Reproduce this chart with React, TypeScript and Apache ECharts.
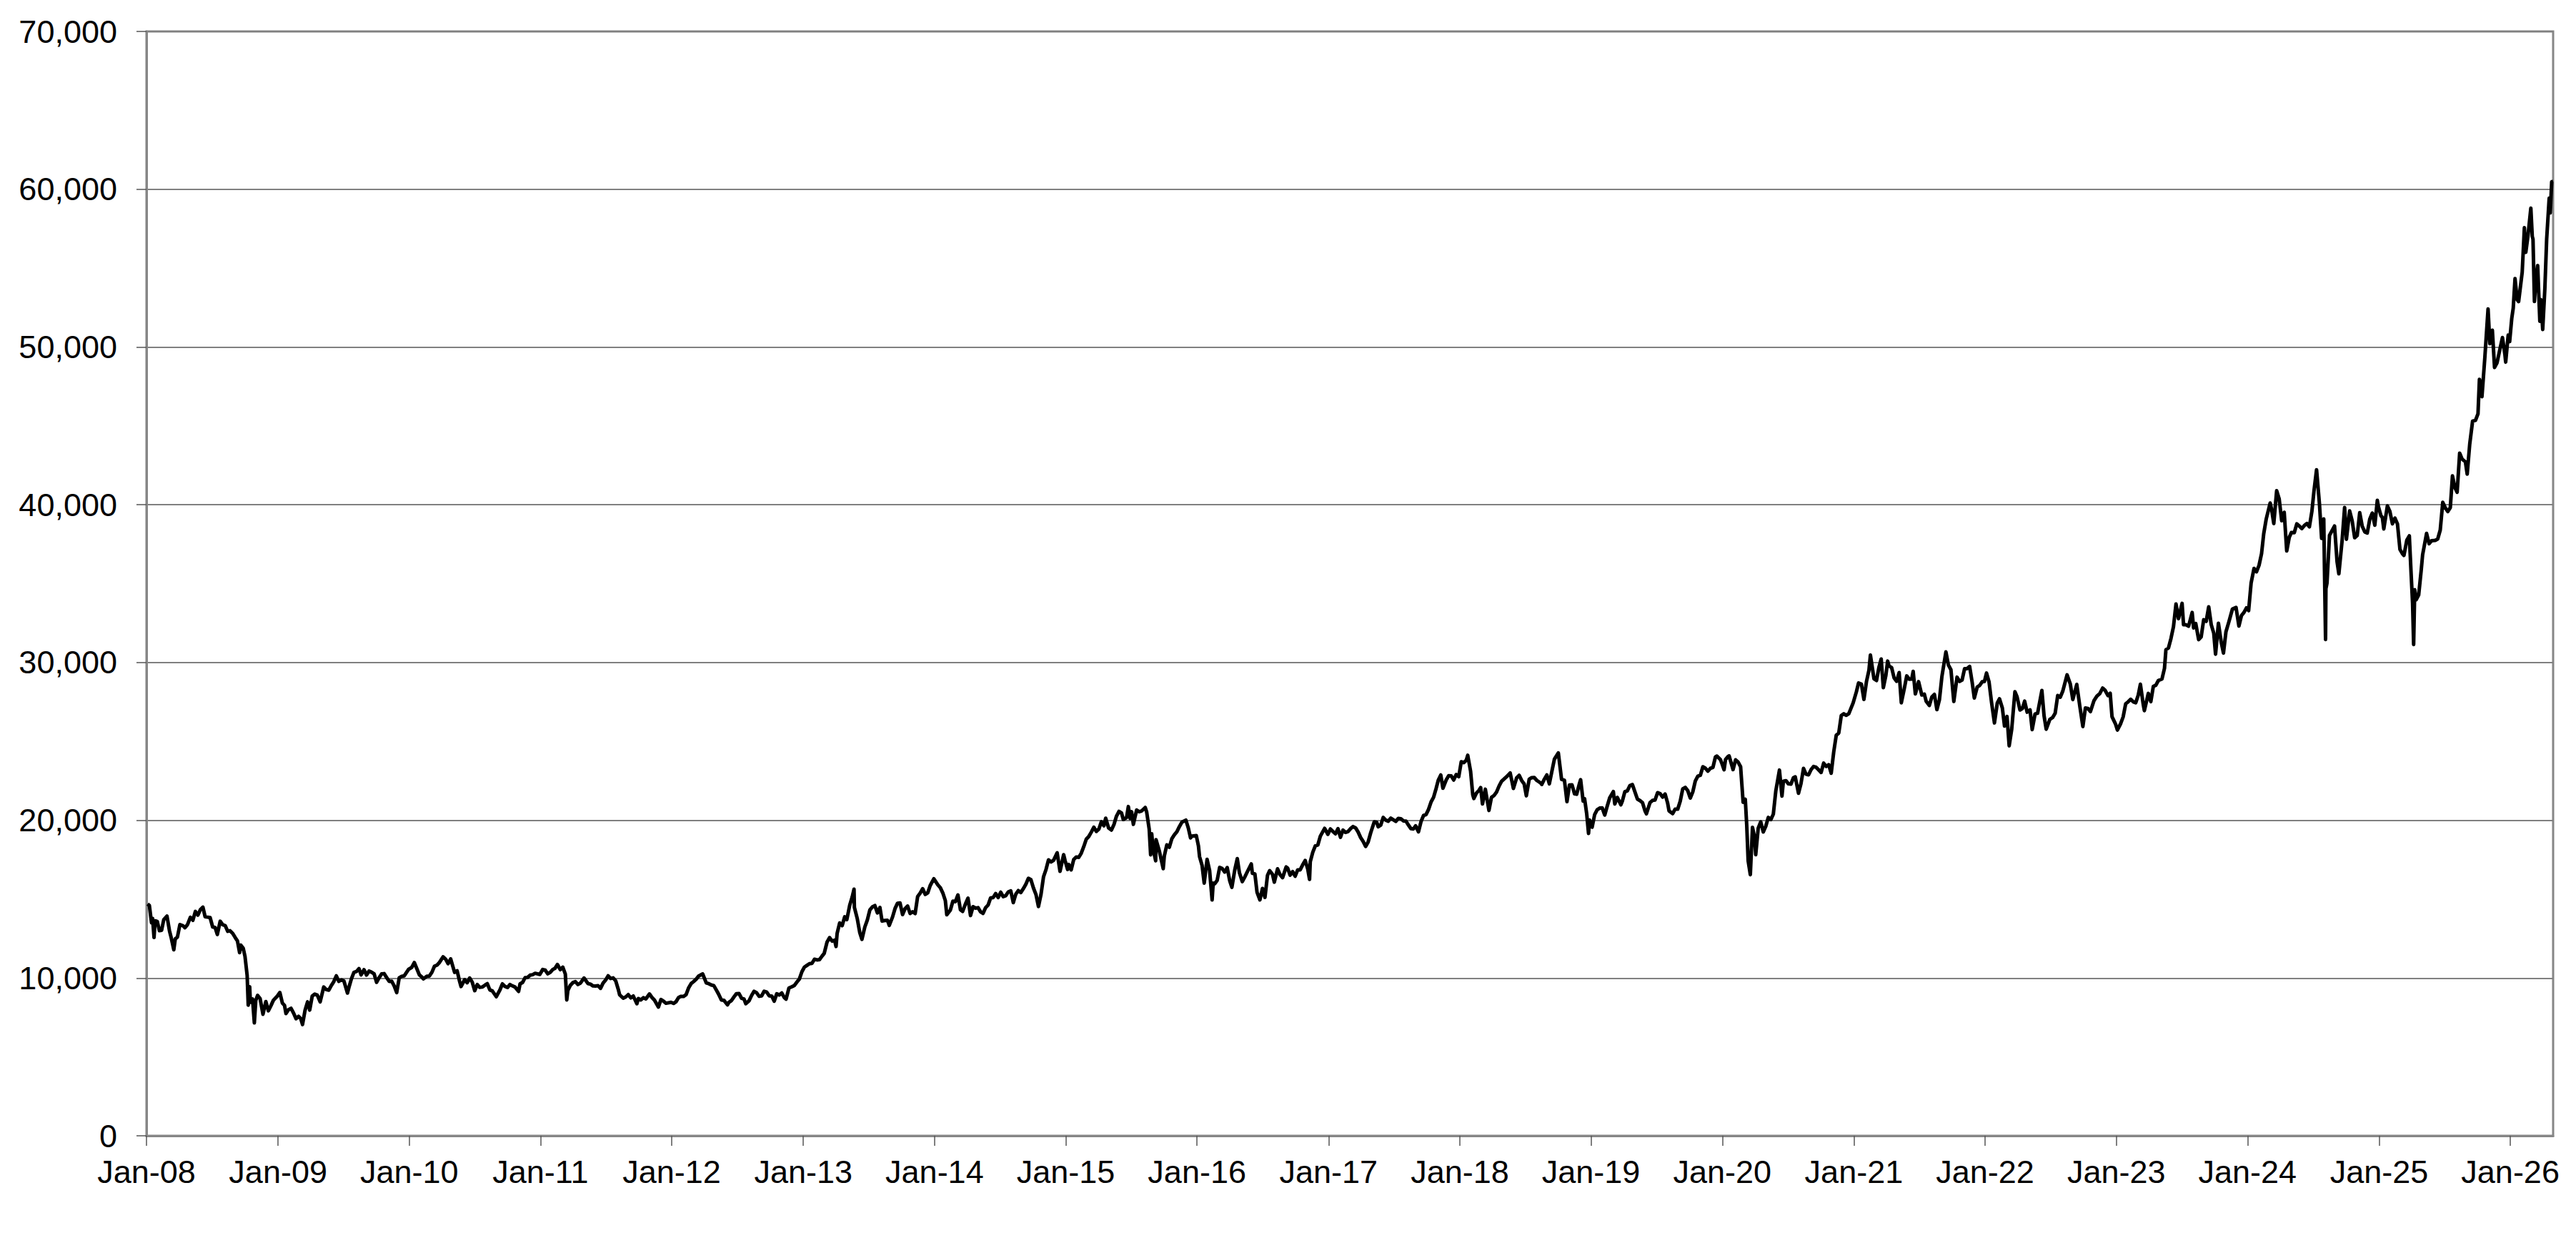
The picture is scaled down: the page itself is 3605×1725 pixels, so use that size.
import React, { useEffect, useRef } from "react";
import * as echarts from "echarts";

type P = [string, number];

const y2008: P[] = [["2008-01-04",14690],["2008-01-09",14600],["2008-01-15",13500],["2008-01-18",13780],["2008-01-22",12570],["2008-01-25",13630],["2008-01-31",13590],["2008-02-06",13000],["2008-02-12",13020],["2008-02-18",13700],["2008-02-27",13930],["2008-03-05",12990],["2008-03-10",12530],["2008-03-17",11790],["2008-03-21",12480],["2008-03-27",12590],["2008-04-03",13390],["2008-04-11",13320],["2008-04-17",13190],["2008-04-24",13380],["2008-05-02",13850],["2008-05-09",13660],["2008-05-16",14220],["2008-05-23",13990],["2008-05-30",14340],["2008-06-06",14490],["2008-06-12",13890],["2008-06-19",13860],["2008-06-26",13830],["2008-07-03",13240],["2008-07-10",13200],["2008-07-16",12760],["2008-07-24",13600],["2008-07-31",13380],["2008-08-07",13320],["2008-08-14",12960],["2008-08-20",13000],["2008-08-28",12820],["2008-09-04",12560],["2008-09-10",12350],["2008-09-16",11610],["2008-09-19",12090],["2008-09-26",11890],["2008-10-01",11370],["2008-10-07",10160],["2008-10-10",8280],["2008-10-14",9450],["2008-10-16",8460],["2008-10-22",8670],["2008-10-27",7160],["2008-10-31",8580],["2008-11-05",8900],["2008-11-12",8700],["2008-11-20",7700],["2008-11-28",8510],["2008-12-05",7920],["2008-12-12",8240],["2008-12-19",8590],["2008-12-30",8860]];
const y2009: P[] = [["2009-01-06",9080],["2009-01-13",8410],["2009-01-19",8260],["2009-01-23",7750],["2009-01-30",7990],["2009-02-06",8080],["2009-02-13",7780],["2009-02-20",7420],["2009-02-27",7570],["2009-03-05",7430],["2009-03-10",7050],["2009-03-17",7950],["2009-03-24",8490],["2009-03-30",7970],["2009-04-06",8860],["2009-04-13",8980],["2009-04-20",8920],["2009-04-28",8490],["2009-05-08",9430],["2009-05-15",9270],["2009-05-22",9230],["2009-05-29",9520],["2009-06-05",9770],["2009-06-12",10140],["2009-06-19",9790],["2009-06-26",9880],["2009-07-03",9820],["2009-07-13",9050],["2009-07-17",9400],["2009-07-24",9950],["2009-07-31",10360],["2009-08-07",10410],["2009-08-14",10600],["2009-08-20",10200],["2009-08-28",10530],["2009-09-04",10190],["2009-09-11",10440],["2009-09-18",10370],["2009-09-25",10270],["2009-10-02",9730],["2009-10-09",10020],["2009-10-16",10260],["2009-10-23",10280],["2009-10-30",10030],["2009-11-06",9790],["2009-11-13",9800],["2009-11-20",9500],["2009-11-27",9080],["2009-12-04",10020],["2009-12-11",10110],["2009-12-18",10140],["2009-12-30",10550]];
const y2010: P[] = [["2010-01-08",10680],["2010-01-15",10980],["2010-01-22",10590],["2010-01-29",10200],["2010-02-05",10060],["2010-02-09",9950],["2010-02-19",10120],["2010-02-26",10130],["2010-03-05",10370],["2010-03-12",10750],["2010-03-19",10820],["2010-03-26",10990],["2010-04-05",11340],["2010-04-12",11200],["2010-04-19",10910],["2010-04-26",11210],["2010-05-07",10360],["2010-05-14",10460],["2010-05-21",9780],["2010-05-25",9460],["2010-06-04",9900],["2010-06-11",9700],["2010-06-18",10000],["2010-06-25",9740],["2010-07-02",9200],["2010-07-09",9590],["2010-07-16",9410],["2010-07-23",9430],["2010-07-30",9540],["2010-08-06",9640],["2010-08-13",9250],["2010-08-20",9180],["2010-08-31",8820],["2010-09-10",9240],["2010-09-17",9630],["2010-09-24",9470],["2010-10-01",9400],["2010-10-08",9590],["2010-10-15",9500],["2010-10-22",9430],["2010-11-01",9150],["2010-11-05",9630],["2010-11-12",9720],["2010-11-19",10020],["2010-11-26",10040],["2010-12-03",10180],["2010-12-10",10210],["2010-12-17",10300],["2010-12-30",10230]];
const y2011: P[] = [["2011-01-07",10540],["2011-01-14",10500],["2011-01-21",10270],["2011-01-28",10360],["2011-02-04",10540],["2011-02-10",10610],["2011-02-17",10860],["2011-02-25",10530],["2011-03-04",10690],["2011-03-11",10250],["2011-03-15",8610],["2011-03-18",9210],["2011-03-25",9540],["2011-04-01",9710],["2011-04-08",9770],["2011-04-15",9590],["2011-04-22",9680],["2011-05-02",10000],["2011-05-13",9650],["2011-05-20",9610],["2011-05-27",9500],["2011-06-03",9490],["2011-06-10",9510],["2011-06-17",9350],["2011-06-24",9680],["2011-07-01",9870],["2011-07-08",10140],["2011-07-15",9970],["2011-07-22",10010],["2011-07-29",9830],["2011-08-05",9300],["2011-08-09",8940],["2011-08-19",8720],["2011-08-26",8800],["2011-09-02",8950],["2011-09-09",8740],["2011-09-16",8860],["2011-09-26",8370],["2011-09-30",8700],["2011-10-07",8610],["2011-10-14",8750],["2011-10-21",8680],["2011-10-31",8990],["2011-11-07",8770],["2011-11-14",8600],["2011-11-25",8160],["2011-12-02",8640],["2011-12-09",8540],["2011-12-16",8400],["2011-12-30",8460]];
const y2012: P[] = [["2012-01-06",8390],["2012-01-13",8500],["2012-01-20",8770],["2012-01-27",8840],["2012-02-03",8830],["2012-02-10",8950],["2012-02-17",9380],["2012-02-24",9650],["2012-03-02",9780],["2012-03-09",9930],["2012-03-16",10130],["2012-03-27",10260],["2012-04-06",9690],["2012-04-13",9640],["2012-04-20",9560],["2012-04-27",9520],["2012-05-07",9120],["2012-05-11",8950],["2012-05-18",8610],["2012-05-25",8590],["2012-06-04",8300],["2012-06-08",8460],["2012-06-15",8570],["2012-06-22",8800],["2012-06-29",9010],["2012-07-06",9020],["2012-07-13",8720],["2012-07-20",8670],["2012-07-25",8370],["2012-08-03",8560],["2012-08-10",8890],["2012-08-17",9160],["2012-08-24",9070],["2012-08-31",8840],["2012-09-07",8870],["2012-09-14",9160],["2012-09-21",9110],["2012-09-28",8870],["2012-10-05",8860],["2012-10-12",8530],["2012-10-19",9000],["2012-10-26",8930],["2012-11-02",9050],["2012-11-09",8760],["2012-11-14",8660],["2012-11-22",9370],["2012-11-30",9450],["2012-12-07",9530],["2012-12-14",9740],["2012-12-21",9940],["2012-12-28",10400]];
const y2013: P[] = [["2013-01-04",10690],["2013-01-11",10800],["2013-01-18",10910],["2013-01-25",10930],["2013-02-01",11190],["2013-02-08",11150],["2013-02-15",11170],["2013-02-22",11390],["2013-02-28",11560],["2013-03-08",12280],["2013-03-15",12560],["2013-03-22",12340],["2013-03-29",12400],["2013-04-02",12000],["2013-04-05",12830],["2013-04-12",13490],["2013-04-19",13320],["2013-04-26",13880],["2013-05-02",13700],["2013-05-10",14610],["2013-05-17",15140],["2013-05-22",15630],["2013-05-23",14480],["2013-05-31",13770],["2013-06-07",12880],["2013-06-13",12450],["2013-06-21",13230],["2013-06-28",13680],["2013-07-05",14310],["2013-07-12",14510],["2013-07-19",14590],["2013-07-26",14130],["2013-08-02",14470],["2013-08-08",13610],["2013-08-16",13650],["2013-08-23",13660],["2013-08-28",13340],["2013-09-06",13860],["2013-09-13",14400],["2013-09-20",14740],["2013-09-27",14760],["2013-10-04",14020],["2013-10-11",14400],["2013-10-18",14560],["2013-10-25",14090],["2013-11-01",14200],["2013-11-08",14090],["2013-11-15",15170],["2013-11-22",15380],["2013-11-29",15660],["2013-12-06",15300],["2013-12-13",15400],["2013-12-20",15870],["2013-12-30",16290]];
const y2014: P[] = [["2014-01-10",15910],["2014-01-17",15730],["2014-01-24",15390],["2014-01-31",14910],["2014-02-04",14010],["2014-02-14",14310],["2014-02-21",14870],["2014-02-28",14840],["2014-03-07",15270],["2014-03-14",14330],["2014-03-20",14220],["2014-03-28",14700],["2014-04-04",15060],["2014-04-11",13960],["2014-04-18",14520],["2014-04-25",14430],["2014-05-02",14460],["2014-05-09",14200],["2014-05-16",14100],["2014-05-23",14460],["2014-05-30",14630],["2014-06-06",15080],["2014-06-13",15100],["2014-06-20",15350],["2014-06-27",15100],["2014-07-04",15440],["2014-07-11",15160],["2014-07-18",15220],["2014-07-25",15460],["2014-08-01",15520],["2014-08-08",14780],["2014-08-15",15320],["2014-08-22",15540],["2014-08-29",15420],["2014-09-05",15670],["2014-09-12",15950],["2014-09-19",16320],["2014-09-26",16230],["2014-10-03",15710],["2014-10-10",15300],["2014-10-17",14530],["2014-10-24",15290],["2014-10-31",16410],["2014-11-07",16880],["2014-11-14",17490],["2014-11-21",17360],["2014-11-28",17460],["2014-12-08",17940],["2014-12-16",16760],["2014-12-26",17820],["2014-12-30",17450]];
const y2015: P[] = [["2015-01-06",16880],["2015-01-09",17200],["2015-01-16",16860],["2015-01-23",17510],["2015-01-30",17670],["2015-02-06",17650],["2015-02-13",17910],["2015-02-20",18330],["2015-02-27",18800],["2015-03-06",18970],["2015-03-13",19250],["2015-03-20",19560],["2015-03-27",19290],["2015-04-03",19440],["2015-04-10",19910],["2015-04-17",19650],["2015-04-22",20130],["2015-04-30",19520],["2015-05-08",19380],["2015-05-15",19730],["2015-05-22",20260],["2015-05-29",20560],["2015-06-05",20460],["2015-06-10",20050],["2015-06-19",20170],["2015-06-24",20870],["2015-06-29",20110],["2015-07-03",20540],["2015-07-08",19740],["2015-07-17",20650],["2015-07-24",20540],["2015-07-31",20590],["2015-08-10",20810],["2015-08-14",20520],["2015-08-21",19440],["2015-08-25",17810],["2015-08-28",19140],["2015-09-01",18170],["2015-09-08",17430],["2015-09-09",18770],["2015-09-18",18070],["2015-09-29",16930],["2015-10-02",17730],["2015-10-09",18440],["2015-10-16",18290],["2015-10-23",18830],["2015-10-30",19080],["2015-11-06",19270],["2015-11-13",19600],["2015-11-20",19880],["2015-12-01",20010],["2015-12-08",19490],["2015-12-14",18880],["2015-12-18",19000],["2015-12-30",19030]];
const y2016: P[] = [["2016-01-05",18370],["2016-01-08",17700],["2016-01-15",17150],["2016-01-21",16020],["2016-01-29",17520],["2016-02-05",16820],["2016-02-12",14950],["2016-02-15",16020],["2016-02-19",15970],["2016-02-26",16190],["2016-03-04",17010],["2016-03-11",16940],["2016-03-18",16720],["2016-03-25",17000],["2016-04-01",16160],["2016-04-07",15750],["2016-04-15",16850],["2016-04-22",17570],["2016-04-28",16670],["2016-05-06",16110],["2016-05-13",16410],["2016-05-20",16740],["2016-05-31",17230],["2016-06-03",16640],["2016-06-10",16600],["2016-06-16",15430],["2016-06-24",14950],["2016-07-01",15680],["2016-07-08",15110],["2016-07-15",16500],["2016-07-21",16810],["2016-07-29",16570],["2016-08-03",16080],["2016-08-12",16920],["2016-08-19",16550],["2016-08-26",16360],["2016-09-05",17040],["2016-09-09",16970],["2016-09-16",16520],["2016-09-23",16750],["2016-09-30",16450],["2016-10-07",16860],["2016-10-14",16860],["2016-10-21",17180],["2016-10-28",17450],["2016-11-04",16910],["2016-11-09",16250],["2016-11-11",17370],["2016-11-18",17970],["2016-11-25",18380],["2016-12-02",18430],["2016-12-09",18990],["2016-12-21",19490],["2016-12-30",19110]];
const y2017: P[] = [["2017-01-06",19450],["2017-01-13",19290],["2017-01-20",19140],["2017-01-27",19470],["2017-02-03",18920],["2017-02-10",19380],["2017-02-17",19230],["2017-02-24",19280],["2017-03-03",19470],["2017-03-10",19600],["2017-03-17",19520],["2017-03-24",19260],["2017-03-31",18910],["2017-04-07",18660],["2017-04-14",18340],["2017-04-21",18620],["2017-04-28",19200],["2017-05-08",19900],["2017-05-15",19870],["2017-05-19",19590],["2017-05-26",19690],["2017-06-02",20180],["2017-06-09",20010],["2017-06-16",19940],["2017-06-23",20130],["2017-06-30",20030],["2017-07-07",19930],["2017-07-14",20120],["2017-07-21",20100],["2017-07-28",19960],["2017-08-04",19950],["2017-08-10",19730],["2017-08-18",19470],["2017-08-25",19450],["2017-08-31",19650],["2017-09-08",19270],["2017-09-15",19910],["2017-09-22",20300],["2017-09-29",20360],["2017-10-06",20690],["2017-10-13",21160],["2017-10-20",21460],["2017-10-27",22010],["2017-11-02",22540],["2017-11-09",22870],["2017-11-15",22030],["2017-11-24",22550],["2017-12-01",22820],["2017-12-08",22810],["2017-12-15",22550],["2017-12-22",22900],["2017-12-29",22760]];
const y2018: P[] = [["2018-01-05",23710],["2018-01-12",23650],["2018-01-19",23810],["2018-01-23",24120],["2018-01-31",23100],["2018-02-06",21610],["2018-02-09",21380],["2018-02-16",21720],["2018-02-23",21890],["2018-02-28",22070],["2018-03-05",21040],["2018-03-09",21470],["2018-03-13",21970],["2018-03-23",20620],["2018-03-30",21450],["2018-04-06",21570],["2018-04-13",21780],["2018-04-20",22160],["2018-04-27",22470],["2018-05-11",22760],["2018-05-21",23000],["2018-05-30",22020],["2018-06-08",22690],["2018-06-15",22850],["2018-06-22",22520],["2018-06-29",22300],["2018-07-05",21550],["2018-07-13",22600],["2018-07-20",22700],["2018-07-27",22710],["2018-08-03",22530],["2018-08-14",22360],["2018-08-17",22270],["2018-08-24",22600],["2018-08-31",22870],["2018-09-07",22310],["2018-09-14",23090],["2018-09-21",23870],["2018-10-02",24270],["2018-10-11",22590],["2018-10-19",22530],["2018-10-26",21180],["2018-11-02",22240],["2018-11-09",22250],["2018-11-16",21680],["2018-11-22",21650],["2018-11-30",22350],["2018-12-03",22570],["2018-12-10",21220],["2018-12-14",21370],["2018-12-20",20390],["2018-12-25",19160],["2018-12-28",20010]];
const y2019: P[] = [["2019-01-04",19560],["2019-01-11",20360],["2019-01-18",20670],["2019-01-25",20770],["2019-02-01",20790],["2019-02-08",20330],["2019-02-15",20900],["2019-02-22",21430],["2019-03-04",21820],["2019-03-08",21030],["2019-03-15",21450],["2019-03-25",20980],["2019-03-29",21210],["2019-04-05",21810],["2019-04-12",21870],["2019-04-19",22200],["2019-04-26",22260],["2019-05-10",21340],["2019-05-17",21250],["2019-05-24",21120],["2019-05-31",20600],["2019-06-04",20410],["2019-06-14",21120],["2019-06-21",21260],["2019-06-28",21280],["2019-07-05",21750],["2019-07-12",21690],["2019-07-19",21470],["2019-07-26",21660],["2019-08-02",21090],["2019-08-06",20590],["2019-08-16",20420],["2019-08-23",20710],["2019-08-30",20700],["2019-09-06",21200],["2019-09-13",21990],["2019-09-20",22080],["2019-09-27",21880],["2019-10-04",21410],["2019-10-11",21800],["2019-10-18",22490],["2019-10-25",22800],["2019-11-01",22850],["2019-11-08",23390],["2019-11-15",23300],["2019-11-22",23110],["2019-11-29",23290],["2019-12-06",23350],["2019-12-13",24020],["2019-12-17",24070],["2019-12-27",23840],["2019-12-30",23660]];
const y2020: P[] = [["2020-01-06",23200],["2020-01-10",23850],["2020-01-17",24040],["2020-01-20",24080],["2020-01-31",23210],["2020-02-07",23830],["2020-02-14",23690],["2020-02-21",23390],["2020-02-28",21140],["2020-03-05",21330],["2020-03-09",19700],["2020-03-13",17430],["2020-03-16",17000],["2020-03-19",16550],["2020-03-25",19550],["2020-03-31",18920],["2020-04-03",17820],["2020-04-10",19500],["2020-04-17",19900],["2020-04-24",19260],["2020-05-01",19620],["2020-05-08",20180],["2020-05-15",20040],["2020-05-22",20390],["2020-05-29",21880],["2020-06-08",23180],["2020-06-15",21530],["2020-06-19",22480],["2020-06-26",22510],["2020-07-03",22310],["2020-07-10",22290],["2020-07-17",22700],["2020-07-22",22750],["2020-07-31",21710],["2020-08-07",22330],["2020-08-14",23290],["2020-08-21",22920],["2020-08-28",22880],["2020-09-04",23210],["2020-09-11",23410],["2020-09-18",23360],["2020-09-25",23200],["2020-10-02",23030],["2020-10-09",23620],["2020-10-16",23410],["2020-10-23",23520],["2020-10-30",22980],["2020-11-06",24330],["2020-11-13",25390],["2020-11-20",25530],["2020-11-27",26640],["2020-12-04",26750],["2020-12-11",26650],["2020-12-18",26760],["2020-12-30",27440]];
const y2021: P[] = [["2021-01-08",28140],["2021-01-14",28700],["2021-01-22",28630],["2021-01-29",27660],["2021-02-05",28780],["2021-02-12",29520],["2021-02-16",30470],["2021-02-26",28970],["2021-03-05",28860],["2021-03-12",29720],["2021-03-18",30220],["2021-03-24",28410],["2021-03-31",29180],["2021-04-05",30090],["2021-04-09",29770],["2021-04-16",29680],["2021-04-23",29020],["2021-04-30",28810],["2021-05-07",29360],["2021-05-13",27450],["2021-05-21",28320],["2021-05-28",29150],["2021-06-04",28940],["2021-06-11",28950],["2021-06-15",29440],["2021-06-21",28010],["2021-06-30",28790],["2021-07-09",27940],["2021-07-16",28000],["2021-07-21",27550],["2021-07-30",27280],["2021-08-06",27820],["2021-08-13",27980],["2021-08-20",27010],["2021-08-27",27640],["2021-09-03",29130],["2021-09-14",30670],["2021-09-21",29840],["2021-09-28",29540],["2021-10-06",27530],["2021-10-15",29070],["2021-10-22",28800],["2021-10-29",28890],["2021-11-05",29610],["2021-11-12",29610],["2021-11-19",29750],["2021-11-26",28750],["2021-12-02",27750],["2021-12-10",28440],["2021-12-17",28550],["2021-12-24",28780],["2021-12-30",28790]];
const y2022: P[] = [["2022-01-05",29330],["2022-01-12",28770],["2022-01-19",27470],["2022-01-27",26170],["2022-02-04",27440],["2022-02-10",27700],["2022-02-18",27120],["2022-02-24",25970],["2022-03-03",26580],["2022-03-09",24720],["2022-03-16",25760],["2022-03-25",28150],["2022-03-31",27820],["2022-04-08",26990],["2022-04-15",27090],["2022-04-21",27550],["2022-04-28",26850],["2022-05-06",27000],["2022-05-12",25750],["2022-05-20",26740],["2022-05-27",26780],["2022-06-08",28230],["2022-06-14",26630],["2022-06-20",25770],["2022-06-30",26390],["2022-07-08",26520],["2022-07-15",26790],["2022-07-22",27910],["2022-07-29",27800],["2022-08-05",28180],["2022-08-17",29220],["2022-08-26",28640],["2022-09-02",27650],["2022-09-13",28610],["2022-09-22",27150],["2022-09-30",25940],["2022-10-07",27120],["2022-10-14",27090],["2022-10-21",26890],["2022-10-31",27590],["2022-11-08",27870],["2022-11-16",28030],["2022-11-24",28380],["2022-12-01",28230],["2022-12-09",27900],["2022-12-15",28050],["2022-12-20",26570],["2022-12-30",26090]];
const y2023: P[] = [["2023-01-04",25720],["2023-01-13",26120],["2023-01-20",26550],["2023-01-27",27380],["2023-02-03",27510],["2023-02-10",27670],["2023-02-17",27510],["2023-02-24",27450],["2023-03-03",27930],["2023-03-09",28620],["2023-03-17",27330],["2023-03-20",26950],["2023-03-31",28040],["2023-04-07",27520],["2023-04-14",28490],["2023-04-21",28560],["2023-04-28",28860],["2023-05-08",28950],["2023-05-15",29630],["2023-05-19",30810],["2023-05-26",30920],["2023-06-02",31520],["2023-06-09",32270],["2023-06-16",33710],["2023-06-23",32780],["2023-07-03",33750],["2023-07-07",32390],["2023-07-14",32390],["2023-07-21",32300],["2023-07-31",33170],["2023-08-04",32190],["2023-08-10",32470],["2023-08-18",31450],["2023-08-25",31620],["2023-09-01",32710],["2023-09-08",32610],["2023-09-15",33530],["2023-09-22",32400],["2023-09-29",31860],["2023-10-04",30530],["2023-10-12",32490],["2023-10-20",31260],["2023-10-26",30600],["2023-11-02",31950],["2023-11-10",32570],["2023-11-20",33390],["2023-11-30",33490],["2023-12-08",32310],["2023-12-15",32970],["2023-12-22",33170],["2023-12-29",33460]];
const y2024: P[] = [["2024-01-04",33290],["2024-01-11",35050],["2024-01-19",35960],["2024-01-26",35750],["2024-02-02",36160],["2024-02-09",36900],["2024-02-15",38160],["2024-02-22",39100],["2024-03-04",40110],["2024-03-08",39690],["2024-03-14",38810],["2024-03-22",40890],["2024-03-29",40370],["2024-04-05",38990],["2024-04-12",39520],["2024-04-19",37070],["2024-04-26",37930],["2024-05-02",38240],["2024-05-10",38230],["2024-05-17",38790],["2024-05-24",38650],["2024-05-31",38490],["2024-06-07",38680],["2024-06-14",38810],["2024-06-21",38600],["2024-06-28",39580],["2024-07-04",40910],["2024-07-11",42220],["2024-07-19",40060],["2024-07-25",37870],["2024-07-31",39100],["2024-08-02",35910],["2024-08-05",31460],["2024-08-06",34680],["2024-08-09",35030],["2024-08-16",38060],["2024-08-23",38360],["2024-08-30",38650],["2024-09-06",36390],["2024-09-11",35620],["2024-09-20",37720],["2024-09-27",39830],["2024-10-02",37810],["2024-10-11",39610],["2024-10-18",38980],["2024-10-25",37910],["2024-11-01",38050],["2024-11-08",39500],["2024-11-15",38640],["2024-11-22",38280],["2024-11-29",38210],["2024-12-06",39090],["2024-12-13",39470],["2024-12-20",38700],["2024-12-27",40280],["2024-12-30",39890]];
const y2025: P[] = [["2025-01-06",39310],["2025-01-10",39190],["2025-01-14",38470],["2025-01-24",39930],["2025-01-31",39570],["2025-02-07",38790],["2025-02-14",39150],["2025-02-21",38780],["2025-02-28",37160],["2025-03-07",36890],["2025-03-11",36790],["2025-03-19",37750],["2025-03-26",38030],["2025-03-31",35620],["2025-04-04",33780],["2025-04-07",31140],["2025-04-10",34610],["2025-04-14",33980],["2025-04-21",34280],["2025-04-28",35840],["2025-05-02",36830],["2025-05-13",38180],["2025-05-20",37530],["2025-05-27",37720],["2025-06-06",37740],["2025-06-13",37830],["2025-06-20",38400],["2025-06-27",40150],["2025-07-04",39810],["2025-07-11",39570],["2025-07-18",39820],["2025-07-24",41830],["2025-07-31",41070],["2025-08-06",40790],["2025-08-13",43270],["2025-08-20",42890],["2025-08-29",42720],["2025-09-03",41940],["2025-09-10",43840],["2025-09-18",45300],["2025-09-26",45350],["2025-10-03",45770],["2025-10-07",47950],["2025-10-14",46850],["2025-10-22",49310],["2025-10-31",52410],["2025-11-05",50210],["2025-11-12",51060],["2025-11-18",48700],["2025-11-25",49000],["2025-12-03",49860],["2025-12-10",50600],["2025-12-17",49500],["2025-12-19",49040],["2025-12-26",50750],["2025-12-30",50340]];
const y2026: P[] = [["2026-01-05",51830],["2026-01-09",52460],["2026-01-14",54330],["2026-01-20",53000],["2026-01-24",52880],["2026-02-03",54750],["2026-02-09",57560],["2026-02-13",56000],["2026-02-19",57040],["2026-02-27",58800],["2026-03-03",57000],["2026-03-05",56830],["2026-03-09",52880],["2026-03-13",54200],["2026-03-18",55160],["2026-03-24",51630],["2026-03-27",53000],["2026-04-01",51110],["2026-04-07",53710],["2026-04-12",56830],["2026-04-19",59430],["2026-04-22",58500],["2026-04-26",60470],["2026-04-30",60500]];

const yTicks = [0, 10000, 20000, 30000, 40000, 50000, 60000, 70000];
const xYears = [2008, 2009, 2010, 2011, 2012, 2013, 2014, 2015, 2016, 2017, 2018, 2019, 2020, 2021, 2022, 2023, 2024, 2025, 2026];
const xEnd = "2026-04-30";

const FONT = "Arial, 'Liberation Sans', Helvetica, sans-serif";

const toTs = (s: string) => {
  const [y, m, d] = s.split("-").map(Number);
  return Date.UTC(y, m - 1, d);
};

export default function App() {
  const ref = useRef<HTMLDivElement>(null);
  useEffect(() => {
    if (!ref.current) return;
    const chart = echarts.init(ref.current, undefined, { renderer: "svg" });
    const all = [
      ...y2008, ...y2009, ...y2010, ...y2011, ...y2012, ...y2013, ...y2014,
      ...y2015, ...y2016, ...y2017, ...y2018, ...y2019, ...y2020, ...y2021,
      ...y2022, ...y2023, ...y2024, ...y2025, ...y2026,
    ];
    const data = all.map(([d, v]) => [toTs(d), v]);
    const yearTs = xYears.map((y) => Date.UTC(y, 0, 1));
    chart.setOption({
      animation: false,
      backgroundColor: "#ffffff",
      grid: {
        left: 205,
        right: 32,
        top: 44,
        bottom: 136,
        show: true,
        borderColor: "#868686",
        borderWidth: 3,
        backgroundColor: "transparent",
      },
      xAxis: {
        type: "value",
        min: yearTs[0],
        max: toTs(xEnd),
        axisLine: { show: true, lineStyle: { color: "#868686", width: 3 } },
        axisTick: {
          show: true,
          inside: false,
          length: 14,
          customValues: yearTs,
          lineStyle: { color: "#555555", width: 1.5 },
        },
        axisLabel: {
          show: true,
          customValues: yearTs,
          margin: 28,
          fontSize: 45,
          fontFamily: FONT,
          color: "#000000",
          hideOverlap: false,
          formatter: (v: number) => {
            const d = new Date(v);
            return "Jan-" + String(d.getUTCFullYear() % 100).padStart(2, "0");
          },
        },
        splitLine: { show: false },
      },
      yAxis: {
        type: "value",
        min: yTicks[0],
        max: yTicks[yTicks.length - 1],
        interval: 10000,
        axisLine: { show: true, lineStyle: { color: "#868686", width: 3 } },
        axisTick: {
          show: true,
          inside: false,
          length: 14,
          lineStyle: { color: "#555555", width: 1.5 },
        },
        axisLabel: {
          margin: 41,
          fontSize: 45,
          fontFamily: FONT,
          color: "#000000",
          formatter: (v: number) => v.toLocaleString("en-US"),
        },
        splitLine: { show: true, lineStyle: { color: "#808080", width: 2 } },
      },
      series: [
        {
          type: "line",
          data,
          showSymbol: false,
          symbol: "none",
          smooth: false,
          lineStyle: { color: "#000000", width: 5, join: "round" },
          z: 5,
        },
      ],
    });
    return () => chart.dispose();
  }, []);
  return (
    <div
      ref={ref}
      style={{ position: "absolute", left: 0, top: 0, width: "3605px", height: "1725px", background: "#fff" }}
    />
  );
}
